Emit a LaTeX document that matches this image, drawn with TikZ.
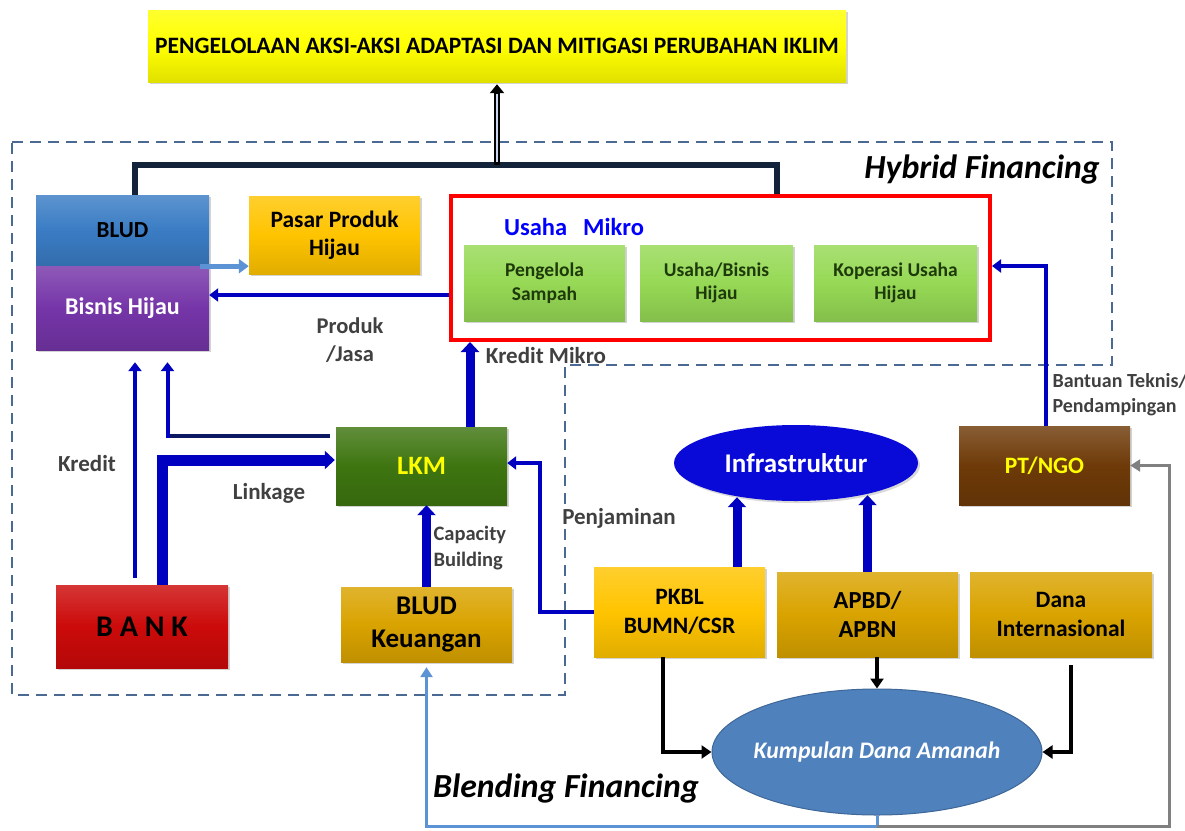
\documentclass[tikz,border=0pt]{standalone}
\usepackage{fontspec}
\setmainfont{Carlito}
\usetikzlibrary{arrows.meta,shapes.geometric,shadows,calc}
\definecolor{arrowblue}{HTML}{0000C0}
\definecolor{labelgray}{HTML}{404040}
\definecolor{dashblue}{HTML}{4A6A94}
\definecolor{titleyellow}{HTML}{FFFF00}
\definecolor{bludblue}{HTML}{3A7CC4}
\definecolor{purplebox}{HTML}{7535A8}
\definecolor{goldbox}{HTML}{FFC400}
\definecolor{darkgold}{HTML}{D9A300}
\definecolor{greenbox}{HTML}{96D955}
\definecolor{greentext}{HTML}{1E3A0A}
\definecolor{lkmgreen}{HTML}{3E7510}
\definecolor{bankred}{HTML}{CC0A0A}
\definecolor{brownbox}{HTML}{6E3A08}
\definecolor{infrablue}{HTML}{0A0AD8}
\definecolor{kdablue}{HTML}{4F81BD}
\definecolor{lightarrow}{HTML}{5B93D5}
\definecolor{topline}{HTML}{13233A}
\definecolor{pale}{HTML}{C8D8F0}
\tikzset{
  box/.style={rectangle, top color=#1!82!white, bottom color=#1!88!black, middle color=#1,
    drop shadow={shadow xshift=2pt,shadow yshift=-2pt,opacity=0.35}, inner sep=2pt, align=center},
  fs/.style={font=\bfseries\fontsize{#1}{\the\dimexpr #1pt*6/5\relax}\selectfont},
  lbl/.style={text=labelgray, font=\bfseries\fontsize{#1}{\the\dimexpr #1pt*5/4\relax}\selectfont},
  arr/.style={draw=arrowblue, line width=4pt, -{Triangle[width=13pt,length=9pt]}},
  fatarr/.style={draw=arrowblue, line width=9pt, -{Triangle[width=18pt,length=10pt]}},
  blackarr/.style={draw=black, line width=3.5pt, -{Triangle[width=13pt,length=10pt]}},
}
\begin{document}
\begin{tikzpicture}[x=1pt,y=-1pt]
\useasboundingbox (0,0) rectangle (1185,830);

% dashed region
\draw[dashblue, line width=2pt, dash pattern=on 11pt off 7pt]
  (12,142) -- (1112,142) -- (1112,365) -- (565,365) -- (565,695) -- (12,695) -- cycle;

% nodes
\node[box=titleyellow, minimum width=698pt, minimum height=72pt, fs=23.5] (title) at (497,46)
  {PENGELOLAAN AKSI-AKSI ADAPTASI DAN MITIGASI PERUBAHAN IKLIM};
\node[box=bludblue, minimum width=173pt, minimum height=71pt, fs=23] (blud) at (122.5,230.5) {BLUD};
\node[box=purplebox, minimum width=173pt, minimum height=84pt, fs=24, text=white] (bisnis) at (122.5,308) {Bisnis Hijau};
\node[box=goldbox, minimum width=171pt, minimum height=78pt, fs=23.5] (pasar) at (334.5,235) {Pasar Produk\\Hijau};

\node[draw=red, line width=4pt, minimum width=539pt, minimum height=144pt, fill=white] (usaha) at (720.5,268) {};
\node[text=blue, fs=24.5] (mikro) at (574,227) {Usaha\hspace{16pt}Mikro};
\node[box=greenbox, minimum width=161pt, minimum height=76pt, fs=19.5, text=greentext] (sampah) at (544.5,283) {Pengelola\\Sampah};
\node[box=greenbox, minimum width=153pt, minimum height=76pt, fs=19.5, text=greentext] (ubh) at (716.5,283) {Usaha/Bisnis\\Hijau};
\node[box=greenbox, minimum width=163pt, minimum height=76pt, fs=19.5, text=greentext] (kop) at (895.5,283) {Koperasi Usaha\\Hijau};

\node[box=lkmgreen, minimum width=171pt, minimum height=78pt, fs=26.5, text=titleyellow] (lkm) at (421.5,466) {LKM};
\node[box=bankred, minimum width=172pt, minimum height=83pt, fs=30] (bank) at (142,626.5) {B A N K};
\node[box=darkgold, minimum width=171pt, minimum height=75pt, fs=27] (bludk) at (426.5,624.5) {BLUD\\Keuangan};

\node[ellipse, fill=infrablue, minimum width=244pt, minimum height=76pt, fs=27, text=white,
  drop shadow={shadow xshift=2pt,shadow yshift=-2pt,opacity=0.3}] (infra) at (796,463) {Infrastruktur};
\node[box=brownbox, minimum width=171pt, minimum height=79pt, fs=23.5, text=titleyellow] (ptngo) at (1044.5,465.5) {PT/NGO};
\node[box=goldbox, minimum width=171pt, minimum height=90pt, fs=23.5] (pkbl) at (679.5,612) {PKBL\\BUMN/CSR};
\node[box=darkgold, minimum width=181pt, minimum height=85pt, fs=24.5] (apbd) at (867.5,614.5) {APBD/\\APBN};
\node[box=darkgold, minimum width=182pt, minimum height=85pt, fs=23.5] (dana) at (1061,614.5) {Dana\\Internasional};
\node[ellipse, fill=kdablue, draw=kdablue!80!black, line width=1pt, minimum width=330pt, minimum height=126pt,
  inner sep=0pt] (kda) at (877,752) {};
\node[text=white, font=\bfseries\itshape\fontsize{23.7}{28}\selectfont] (kdatext) at (kda.center) {Kumpulan Dana Amanah};

% labels
\node[font=\bfseries\itshape\fontsize{33.7}{38}\selectfont] (hybrid) at (982,170) {Hybrid Financing};
\node[font=\bfseries\itshape\fontsize{33.7}{38}\selectfont] (blending) at (566,789) {Blending Financing};
\node[lbl=22.5, align=center] (produk) at (350,340) {Produk\\/Jasa};
\node[lbl=23] (kmikro) at (546,356) {Kredit Mikro};
\node[lbl=23] (kredit) at (87,464) {Kredit};
\node[lbl=23] (linkage) at (269,493) {Linkage};
\node[lbl=20.5, align=left, anchor=west] (capacity) at (430,548) {Capacity\\Building};
\node[lbl=23] (penjaminan) at (619,518) {Penjaminan};
\node[lbl=20, align=left, anchor=west] (bantuan) at (1049,395) {Bantuan Teknis/\\Pendampingan};

% helper coordinates
\coordinate (jn) at (497,165);
\coordinate (bhin) at ([yshift=13pt]bisnis.east);
\coordinate (lkmout) at ([xshift=-6pt,yshift=30pt]lkm.west);
\coordinate (lc) at ([xshift=45pt]bisnis.south |- lkmout);

% top black connector and arrow to title
\draw[topline, line width=6pt] ([xshift=12.5pt]blud.north) |- (jn) -| ([xshift=56.5pt]usaha.north);
\draw[black, line width=5.5pt, -{Triangle[width=14pt,length=9pt]}] (jn) -- ([yshift=-2pt]title.south);
\draw[pale, line width=1.6pt] ([yshift=3pt]jn) -- ([yshift=-12pt]title.south);

% arrows
\draw[lightarrow, line width=5pt, -{Triangle[width=14pt,length=10pt]}] ([xshift=-9pt]blud.south east) -- (pasar.west |- blud.south east);
\draw[arr] (usaha.west |- bhin) -- (bhin);
\draw[fatarr] ([xshift=48.5pt]lkm.north) -- ([xshift=48.5pt]lkm.north |- usaha.south);
\draw[topline!70!arrowblue, line width=4pt] (lkmout) -- ([xshift=-2pt]lc);
\draw[arr] ([yshift=-2pt]lc) -- ([xshift=45pt,yshift=-12pt]bisnis.south);
\draw[arr] ([xshift=-7pt,yshift=7pt]bank.north) -- ([xshift=12.5pt,yshift=-12pt]bisnis.south);
\draw[draw=arrowblue, line width=11pt, -{Triangle[width=18pt,length=10pt]}] ([xshift=20pt]bank.north) |- ([yshift=6pt,xshift=-1pt]lkm.west);
\draw[fatarr] (bludk.north) -- (bludk.north |- lkm.south);
\draw[arr] (pkbl.west) -- ++(-54,0) |- ([yshift=3pt]lkm.east);
\draw[fatarr] ([xshift=57.5pt]pkbl.north) -- ([xshift=57.5pt,yshift=4pt]pkbl.north |- infra.south);
\draw[fatarr] (apbd.north) -- ([yshift=6pt]apbd.north |- infra.south);
\draw[arr] ([xshift=1.5pt]ptngo.north) |- ([yshift=2pt]usaha.east);

\draw[blackarr] ([xshift=-16.5pt]pkbl.south) |- (kda.west);
\draw[blackarr] (apbd.south -| kda.north) -- (kda.north);
\draw[blackarr] ([xshift=10pt,yshift=-8pt]dana.south) |- (kda.east);

\path (kda.south) ++(0,11) coordinate (bot);
\draw[lightarrow, line width=3pt, -{Triangle[width=12pt,length=10pt]}] (kda.south) -- (bot) -| ([yshift=-5pt]bludk.south);
\draw[gray, line width=3pt, -{Triangle[width=12pt,length=10pt]}] (bot) -- ++(292,0) |- (ptngo.east);
\end{tikzpicture}
\end{document}
